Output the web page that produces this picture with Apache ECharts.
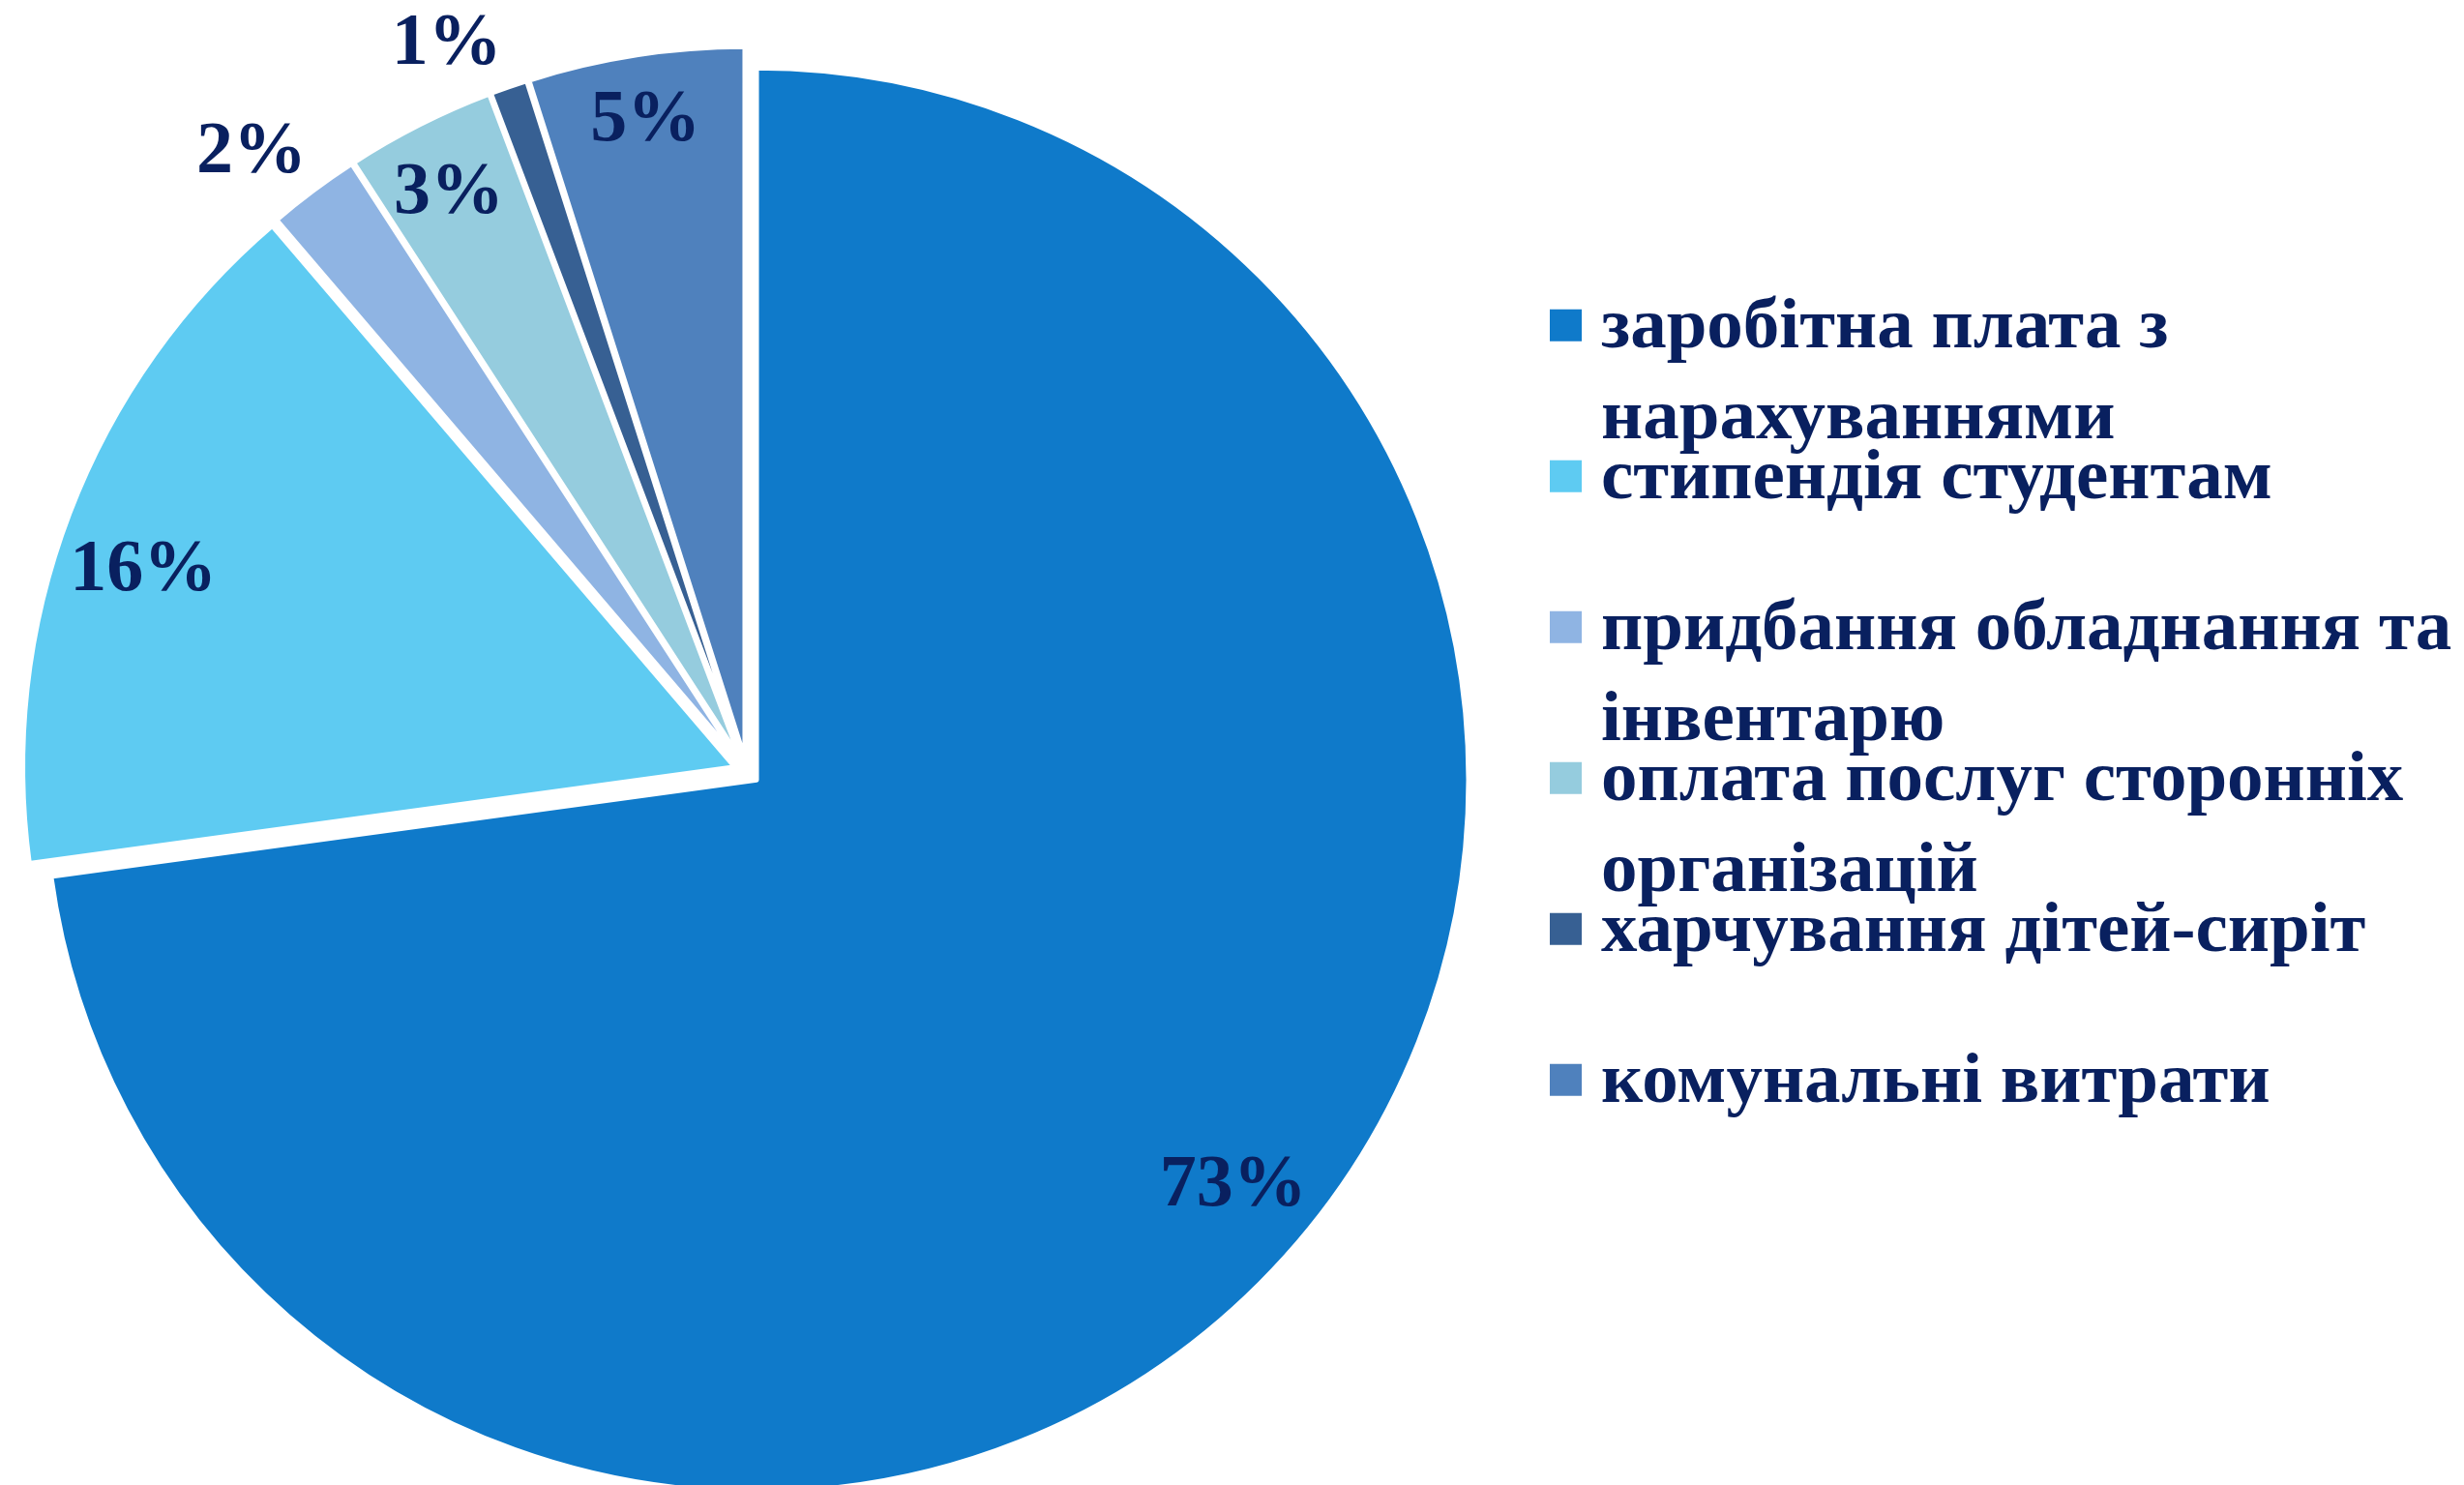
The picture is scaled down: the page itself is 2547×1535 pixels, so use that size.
<!DOCTYPE html>
<html>
<head>
<meta charset="utf-8">
<script src="https://cdn.jsdelivr.net/npm/echarts@6/dist/echarts.min.js"></script>
<style>
html,body{margin:0;padding:0;background:#ffffff;}
#chart{width:2547px;height:1535px;}
</style>
</head>
<body>
<div id="chart"></div>
<script>
// ---- data ----
const categories = [
  'заробітна плата з нарахуваннями',
  'стипендія студентам',
  'придбання обладнання та інвентарю',
  'оплата послуг сторонніх організацій',
  'харчування дітей-сиріт',
  'комунальні витрати'
];
const legendText = [
  'заробітна плата з\nнарахуваннями',
  'стипендія студентам\n ',
  'придбання обладнання та\nінвентарю',
  'оплата послуг сторонніх\nорганізацій',
  'харчування дітей-сиріт\n ',
  'комунальні витрати\n '
];
const shares = [72.8, 15.9, 2.1, 3.4, 0.85, 4.9];
const colors = ['#0F7ACA', '#5ECBF2', '#8FB4E3', '#95CCDE', '#376093', '#4F81BD'];

// ---- layout / style ----
const CENTER = [772, 797.5];
const R = 736;
const OFFSET = 13.3;
const TEXT_COLOR = '#09205F';
const FONT = "'Liberation Serif', 'Times New Roman', serif";
// small label nudges (px) to mimic the original label placement
const labelNudge = [[8, -10], [-10, 20], [-18, 16], [0, 5], [-39, 22], [0, -5]];

const chart = echarts.init(document.getElementById('chart'), null, {renderer: 'canvas'});

function labelSeries(r0, r1, shownIdx) {
  return {
    type: 'pie',
    center: CENTER,
    radius: [r0, r1],
    startAngle: 90,
    clockwise: true,
    silent: true,
    selectedMode: 'multiple',
    selectedOffset: OFFSET,
    avoidLabelOverlap: false,
    itemStyle: {color: 'rgba(0,0,0,0)', borderWidth: 0},
    select: {itemStyle: {color: 'rgba(0,0,0,0)', borderWidth: 0}},
    emphasis: {disabled: true},
    label: {
      show: true,
      position: 'inside',
      formatter: p => Math.round(p.percent) + '%',
      color: TEXT_COLOR,
      fontFamily: FONT,
      fontWeight: 'bold',
      fontSize: 76,
      textBorderWidth: 0
    },
    labelLayout: p => ({dx: labelNudge[p.dataIndex][0], dy: 7 + labelNudge[p.dataIndex][1]}),
    labelLine: {show: false},
    data: categories.map((n, i) => ({
      name: n, value: shares[i], selected: true,
      label: {show: shownIdx.indexOf(i) >= 0}
    }))
  };
}

const iconPath = 'path://M0,0h0.01v0.01h-0.01zM47.99,155.99h0.01v0.01h-0.01zM0,10.8h33v33h-33z';

chart.setOption({
  animation: false,
  backgroundColor: '#ffffff',
  legend: {
    orient: 'vertical',
    left: 1602,
    top: 293,
    padding: 0,
    itemGap: -32,
    itemWidth: 48,
    itemHeight: 156,
    icon: iconPath,
    selectedMode: false,
    data: categories,
    itemStyle: {borderWidth: 0},
    formatter: name => legendText[categories.indexOf(name)],
    textStyle: {
      color: TEXT_COLOR,
      fontFamily: FONT,
      fontWeight: 'bold',
      fontSize: 75,
      lineHeight: 94
    }
  },
  series: [
    {
      type: 'pie',
      center: CENTER,
      radius: [0, R],
      startAngle: 90,
      clockwise: true,
      selectedMode: 'multiple',
      selectedOffset: OFFSET,
      itemStyle: {borderColor: '#ffffff', borderWidth: 5},
      select: {itemStyle: {borderColor: '#ffffff', borderWidth: 5}},
      emphasis: {disabled: true},
      label: {show: false},
      labelLine: {show: false},
      data: categories.map((n, i) => ({
        name: n, value: shares[i], selected: true,
        itemStyle: {color: colors[i]}
      }))
    },
    labelSeries(R * 0.74, R, [0, 1]),
    labelSeries(R * 0.81, R, [3, 5]),
    labelSeries(R, R * 1.2, [2, 4])
  ]
});
</script>
</body>
</html>
